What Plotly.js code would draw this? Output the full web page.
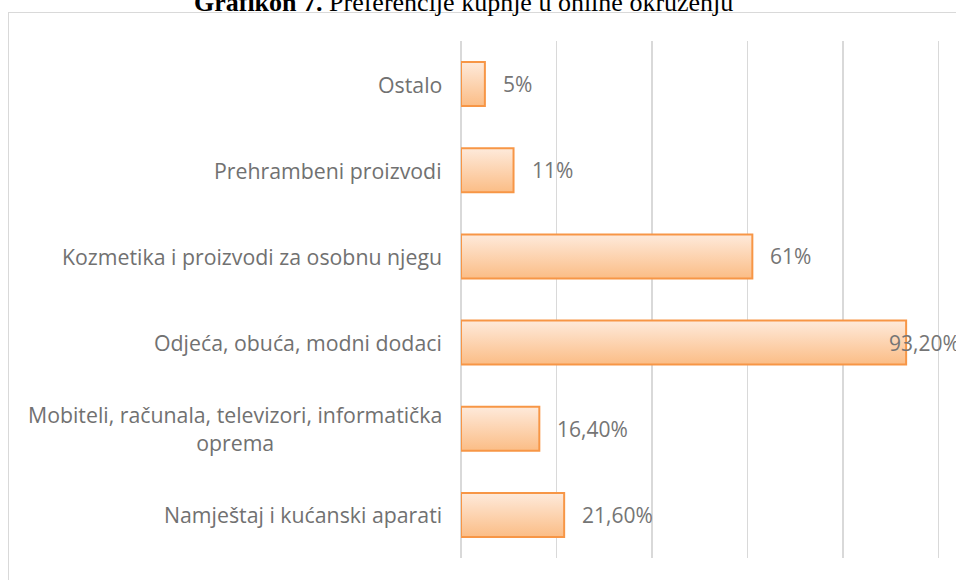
<!DOCTYPE html>
<html>
<head>
<meta charset="utf-8">
<script src="https://cdn.plot.ly/plotly-3.0.1.min.js"></script>
<style>
  html, body { margin: 0; padding: 0; background: #fff; overflow: hidden; width: 956px; height: 580px; }
  #frame { position: absolute; left: 8px; top: 12px; width: 948px; height: 568px; border-top: 1.5px solid #d9d9d9; border-left: 1.5px solid #d9d9d9; box-sizing: border-box; }
  #chart { position: absolute; left: 0; top: 0; width: 956px; height: 580px; }
</style>
</head>
<body>
<div id="frame"></div>
<div id="chart"></div>
<script>
// Data (top-to-bottom order as displayed)
const categories = [
  "Ostalo",
  "Prehrambeni proizvodi",
  "Kozmetika i proizvodi za osobnu njegu",
  "Odjeća, obuća, modni dodaci",
  "Mobiteli, računala, televizori, informatička<br>oprema",
  "Namještaj i kućanski aparati"
];
const values = [5, 11, 61, 93.2, 16.4, 21.6];
const valueLabels = ["5%", "11%", "61%", "93,20%", "16,40%", "21,60%"];
const chartTitle = "<b>Grafikon 7.</b> Preferencije kupnje u online okruženju";

const catFont = { family: "Open Sans, sans-serif", size: 21.3, color: "#717171" };
const valFont = { family: "Open Sans, sans-serif", size: 21, color: "#757575" };

const trace = {
  type: "bar",
  orientation: "h",
  y: categories,
  x: values,
  marker: { color: "#fcd2ad", line: { color: "#f79646", width: 2 } },
  hoverinfo: "none"
};

const annotations = [];
categories.forEach((c, i) => {
  annotations.push({
    xref: "paper", yref: "y", x: 0, y: c,
    xanchor: "right", yanchor: "middle", xshift: -17,
    text: c, showarrow: false, align: "center", font: catFont
  });
  annotations.push({
    xref: "x", yref: "y", x: values[i], y: c,
    xanchor: "left", yanchor: "middle", xshift: values[i] > 90 ? -19 : 16,
    text: valueLabels[i], showarrow: false, font: valFont
  });
});

const layout = {
  width: 956, height: 580,
  paper_bgcolor: "rgba(0,0,0,0)", plot_bgcolor: "rgba(0,0,0,0)",
  margin: { l: 461, r: 15, t: 41, b: 22, pad: 0 },
  title: {
    text: chartTitle,
    font: { family: "Liberation Serif, Times New Roman, serif", size: 26, color: "#000" },
    x: 0.485, xanchor: "center", yref: "container", y: 1 - 2/580, yanchor: "middle"
  },
  bargap: 0.49,
  showlegend: false,
  xaxis: {
    range: [0, 100.5], dtick: 20, tick0: 0, showticklabels: false,
    showgrid: true, gridcolor: "#d9d9d9", gridwidth: 1.5,
    zeroline: true, zerolinecolor: "#d9d9d9", zerolinewidth: 1.5,
    showline: false, ticks: "", fixedrange: true
  },
  yaxis: {
    type: "category", autorange: "reversed", showticklabels: false,
    showgrid: false, zeroline: false, showline: false, ticks: "", fixedrange: true
  },
  annotations: annotations
};

Plotly.newPlot("chart", [trace], layout, { staticPlot: true, displayModeBar: false }).then(gd => {
  const svg = gd.querySelector("svg.main-svg");
  const ns = "http://www.w3.org/2000/svg";
  let defs = svg.querySelector("defs");
  if (!defs) { defs = document.createElementNS(ns, "defs"); svg.insertBefore(defs, svg.firstChild); }
  const grad = document.createElementNS(ns, "linearGradient");
  grad.setAttribute("id", "barGrad");
  grad.setAttribute("x1", "0"); grad.setAttribute("y1", "0");
  grad.setAttribute("x2", "0"); grad.setAttribute("y2", "1");
  [["0", "#feeadb"], ["1", "#fbbd86"]].forEach(([o, c]) => {
    const s = document.createElementNS(ns, "stop");
    s.setAttribute("offset", o); s.setAttribute("stop-color", c);
    grad.appendChild(s);
  });
  defs.appendChild(grad);
  gd.querySelectorAll(".barlayer .point path").forEach(p => {
    p.style.fill = "url(#barGrad)";
    p.style.fillOpacity = "1";
  });
});
</script>
</body>
</html>
